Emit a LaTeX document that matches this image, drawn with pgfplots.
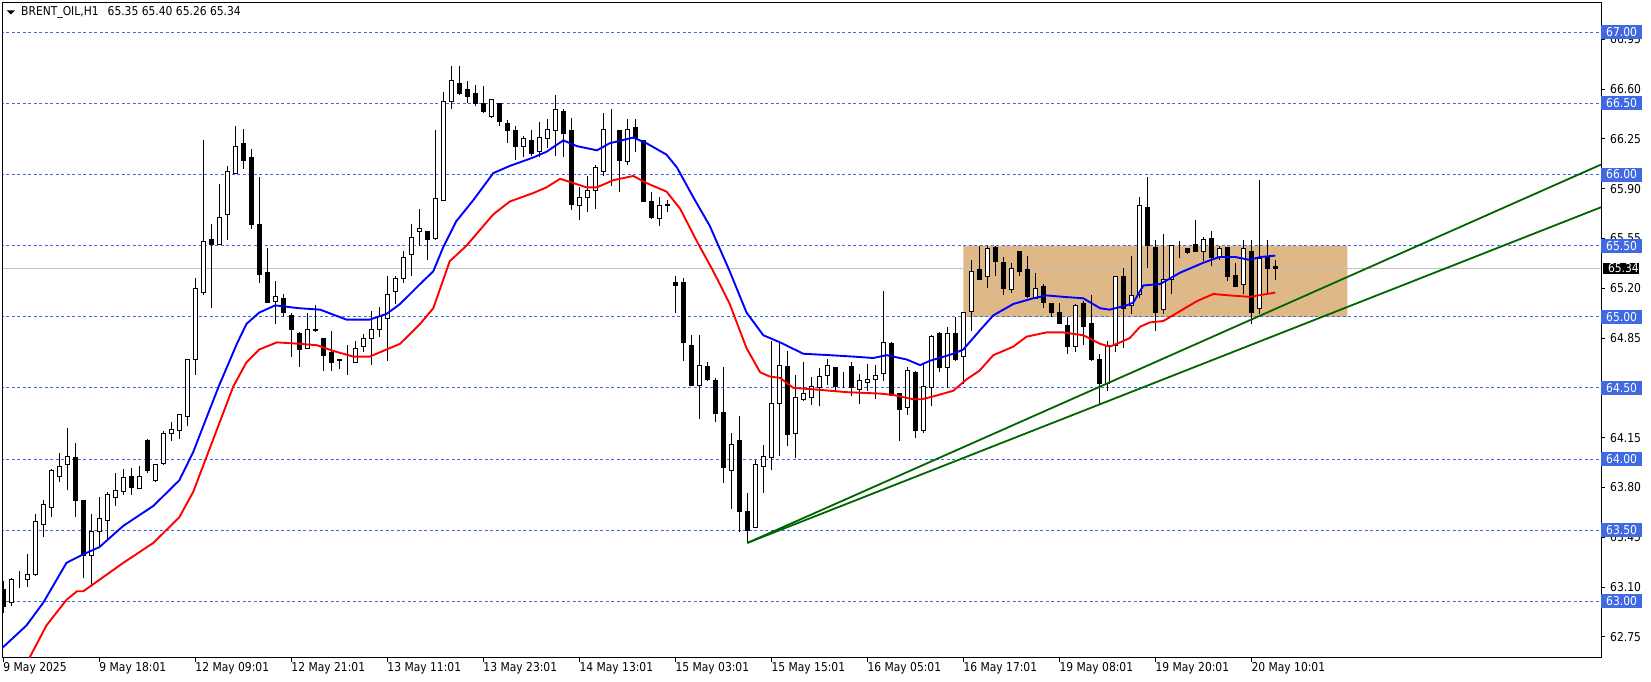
\documentclass[border=0pt]{standalone}
\usepackage{fontspec}
\setmainfont{DejaVu Sans}[FakeStretch=0.88]
\usepackage{pgfplots}
\usepackage{pgfplotstable}
\pgfplotsset{compat=1.18}
\definecolor{mtblue}{RGB}{65,105,225}
\definecolor{boxtan}{RGB}{222,184,135}
\definecolor{trend}{RGB}{0,100,0}
\definecolor{curline}{RGB}{192,192,192}

\pgfplotstableread{
i O H L C
0 63.08 63.14 62.92 62.96
1 62.99 63.16 62.97 63.15
2 63.15 63.21 63.09 63.15
3 63.15 63.33 63.10 63.19
4 63.19 63.61 63.18 63.56
5 63.54 63.71 63.45 63.68
6 63.66 63.93 63.59 63.92
7 63.88 64.04 63.84 63.95
8 63.96 64.22 63.78 64.02
9 64.01 64.11 63.59 63.71
10 63.71 63.71 63.16 63.32
11 63.32 63.61 63.11 63.49
12 63.49 63.73 63.39 63.58
13 63.57 63.77 63.44 63.75
14 63.73 63.90 63.67 63.78
15 63.77 63.93 63.75 63.87
16 63.88 63.94 63.75 63.80
17 63.79 63.95 63.79 63.88
18 64.13 64.14 63.90 63.92
19 63.85 63.96 63.84 63.96
20 63.97 64.20 63.96 64.18
21 64.18 64.26 64.13 64.21
22 64.20 64.31 64.14 64.31
23 64.30 64.70 64.23 64.70
24 64.70 65.27 64.59 65.20
25 65.17 66.24 65.15 65.53
26 65.54 65.65 65.06 65.51
27 65.51 65.93 65.51 65.70
28 65.72 66.06 65.54 66.02
29 66.01 66.34 66.01 66.20
30 66.22 66.32 66.04 66.10
31 66.12 66.18 65.62 65.65
32 65.65 65.98 65.24 65.30
33 65.31 65.48 65.10 65.10
34 65.11 65.25 64.95 65.14
35 65.13 65.16 65.00 65.03
36 65.01 65.03 64.72 64.91
37 64.88 64.89 64.65 64.77
38 64.78 65.03 64.78 64.91
39 64.91 65.08 64.89 64.90
40 64.85 64.85 64.62 64.73
41 64.75 64.90 64.62 64.68
42 64.70 64.70 64.63 64.69
43 64.70 64.80 64.59 64.70
44 64.68 64.83 64.68 64.78
45 64.79 64.88 64.75 64.85
46 64.85 65.04 64.66 64.91
47 64.91 65.07 64.86 65.00
48 64.99 65.29 64.69 65.16
49 65.18 65.29 65.09 65.27
50 65.27 65.46 65.24 65.42
51 65.44 65.65 65.29 65.56
52 65.60 65.76 65.50 65.62
53 65.60 65.60 65.40 65.54
54 65.55 66.31 65.54 65.83
55 65.82 66.58 65.82 66.51
56 66.51 66.76 66.46 66.66
57 66.64 66.76 66.56 66.57
58 66.60 66.66 66.50 66.55
59 66.57 66.63 66.48 66.50
60 66.50 66.62 66.43 66.44
61 66.41 66.53 66.40 66.53
62 66.50 66.50 66.34 66.37
63 66.36 66.38 66.22 66.31
64 66.31 66.34 66.10 66.20
65 66.20 66.27 66.12 66.25
66 66.24 66.31 66.13 66.15
67 66.16 66.37 66.12 66.26
68 66.25 66.39 66.19 66.32
69 66.31 66.56 66.13 66.46
70 66.44 66.46 66.12 66.29
71 66.31 66.40 65.75 65.79
72 65.78 65.91 65.68 65.84
73 65.84 65.99 65.74 65.89
74 65.89 66.07 65.76 66.05
75 66.02 66.43 65.99 66.32
76 66.32 66.46 65.92 66.32
77 66.31 66.31 65.88 66.10
78 66.09 66.39 66.07 66.32
79 66.33 66.39 66.16 66.25
80 66.24 66.24 65.81 65.81
81 65.81 65.88 65.69 65.70
82 65.69 65.84 65.64 65.78
83 65.79 65.82 65.74 65.78
84 65.24 65.29 65.03 65.22
85 65.24 65.27 64.69 64.82
86 64.80 64.87 64.51 64.52
87 64.52 64.87 64.28 64.66
88 64.65 64.68 64.55 64.56
89 64.55 64.57 64.26 64.32
90 64.33 64.65 63.83 63.94
91 63.92 64.18 63.65 64.10
92 64.13 64.30 63.49 63.63
93 63.63 63.76 63.41 63.50
94 63.52 63.99 63.52 63.96
95 63.95 64.10 63.76 64.02
96 64.01 64.83 63.92 64.39
97 64.39 64.83 64.02 64.66
98 64.65 64.76 64.09 64.17
99 64.18 64.59 64.01 64.43
100 64.42 64.68 64.41 64.46
101 64.43 64.58 64.38 64.51
102 64.50 64.64 64.37 64.58
103 64.59 64.70 64.52 64.66
104 64.64 64.65 64.48 64.51
105 64.53 64.61 64.50 64.53
106 64.65 64.68 64.44 64.50
107 64.49 64.60 64.39 64.55
108 64.54 64.67 64.48 64.56
109 64.56 64.66 64.42 64.59
110 64.60 65.18 64.55 64.82
111 64.81 64.82 64.45 64.45
112 64.46 64.46 64.13 64.35
113 64.36 64.65 64.31 64.62
114 64.61 64.62 64.15 64.20
115 64.20 64.67 64.18 64.51
116 64.50 64.87 64.37 64.86
117 64.88 64.89 64.61 64.64
118 64.64 64.93 64.50 64.88
119 64.88 65.00 64.69 64.70
120 64.72 65.03 64.53 65.03
121 65.04 65.40 64.90 65.32
122 65.33 65.50 65.26 65.26
123 65.28 65.50 65.20 65.48
124 65.49 65.50 65.29 65.39
125 65.38 65.42 65.15 65.20
126 65.19 65.38 65.17 65.34
127 65.46 65.46 65.29 65.32
128 65.33 65.43 65.13 65.14
129 65.13 65.31 65.13 65.20
130 65.21 65.23 65.06 65.10
131 65.09 65.10 65.00 65.03
132 65.03 65.10 64.95 64.95
133 64.94 65.00 64.74 64.79
134 64.79 65.09 64.75 65.08
135 65.09 65.11 64.80 64.93
136 64.95 65.15 64.69 64.70
137 64.70 64.74 64.38 64.53
138 64.53 64.83 64.48 64.80
139 64.80 65.29 64.75 65.28
140 65.28 65.34 64.78 65.06
141 65.08 65.43 65.02 65.15
142 65.16 65.84 65.13 65.78
143 65.77 65.98 65.34 65.50
144 65.49 65.54 64.90 65.03
145 65.05 65.58 65.02 65.26
146 65.26 65.50 65.16 65.50
147 65.49 65.53 65.41 65.49
148 65.48 65.48 65.44 65.45
149 65.51 65.68 65.46 65.46
150 65.46 65.56 65.39 65.54
151 65.55 65.60 65.36 65.42
152 65.42 65.50 65.40 65.48
153 65.49 65.49 65.25 65.28
154 65.29 65.38 65.21 65.21
155 65.23 65.54 65.16 65.48
156 65.46 65.54 64.95 65.03
157 65.06 65.96 65.02 65.41
158 65.42 65.54 65.17 65.34
159 65.35 65.40 65.26 65.34
}\candles

\pgfplotstableread{
x y
-0.16 62.67
2.9 62.83
5 62.99
7.9 63.27
10 63.33
12 63.38
15 63.53
18.75 63.67
22 63.85
23.75 64.05
25.4 64.29
27 64.52
29.2 64.81
30.4 64.95
32 65.03
34 65.08
37 65.06
39.6 65.05
42.9 64.98
45.8 64.98
47.9 65.02
49.6 65.09
52.1 65.23
53.75 65.32
55 65.49
56.6 65.67
58.75 65.82
61.25 66.01
63.3 66.06
66.25 66.12
67.9 66.16
70 66.24
71.7 66.20
74.2 66.17
75.8 66.22
78.75 66.26
80.4 66.22
82.9 66.14
84.2 66.05
86.25 65.84
88.3 65.64
90.8 65.32
92.9 65.03
95 64.87
97.1 64.82
100 64.74
103.3 64.73
106.25 64.72
108.75 64.71
110.4 64.73
112.9 64.70
114.6 64.66
115.8 64.69
118.75 64.74
120 64.77
122 64.90
123.75 65.01
126.25 65.09
128.75 65.13
130.4 65.15
132.5 65.14
135 65.13
137.1 65.06
138.3 65.05
140.4 65.08
141.25 65.10
142.5 65.22
144.6 65.23
147.1 65.31
150 65.38
152 65.42
154 65.42
155.8 65.40
157.1 65.42
159 65.43
}\mablue

\pgfplotstableread{
x y
3.25 62.60
5.4 62.83
7.9 63.01
9.2 63.07
10 63.07
11.25 63.12
15 63.27
18.75 63.41
22 63.59
23.75 63.77
26.25 64.14
28.75 64.51
30.4 64.68
32 64.77
34.2 64.82
37 64.81
39.2 64.80
41.25 64.76
43.75 64.72
45.8 64.72
48.75 64.79
49.6 64.81
52.1 64.95
53.75 65.06
55.8 65.39
57.9 65.50
61.25 65.72
63.3 65.81
66.25 65.87
67.9 65.91
69.6 65.97
71.25 65.94
72.9 65.91
74.2 65.91
76.25 65.96
78.75 65.99
80.4 65.94
82.9 65.88
84.6 65.76
86.7 65.53
88.75 65.32
90.8 65.09
92.9 64.78
94.6 64.61
95.8 64.58
97.1 64.57
98.75 64.50
101.25 64.49
105.4 64.47
109.6 64.46
111.25 64.45
113.75 64.42
114.8 64.42
116.25 64.44
118.75 64.48
120.4 64.56
122 64.62
123.75 64.73
126.25 64.79
127.9 64.86
130.4 64.89
132.5 64.89
135 64.87
137.1 64.81
138.3 64.79
139.6 64.82
140.8 64.85
142.1 64.93
143.3 64.96
145 64.97
147.1 65.04
149.2 65.11
151.25 65.16
153.3 65.15
155.8 65.14
159 65.17
}\mared

\begin{document}
\begin{tikzpicture}[x=1bp,y=1bp]
\fill[white] (0,0) rectangle (1651,682);
\useasboundingbox (0,0) rectangle (1651,682);
\pgfplotsset{mt/.style={scale only axis, width=1599bp, height=655.7bp,
  at={(2bp,24bp)}, anchor=south west,
  xmin=-0.16, xmax=199.71, ymin=62.601, ymax=67.211,
  font=\fontsize{12.2bp}{14bp}\selectfont}}
% background layer: zone, levels, current price line, wicks
\begin{axis}[mt, hide axis]
\addplot[fill=boxtan, draw=none] coordinates {(120,65) (168,65) (168,65.5) (120,65.5) (120,65)};
\pgfplotsinvokeforeach{63,63.5,64,64.5,65,65.5,66,66.5,67}{
  \addplot[mtblue, line width=0.9bp, dash pattern=on 3bp off 2.5bp] coordinates {(-1,#1) (201,#1)};
}
\addplot[curline, line width=0.9bp] coordinates {(-1,65.34) (201,65.34)};
\addplot[black, mark=none, draw=none,
  error bars/.cd, y dir=plus, y explicit, error mark=none,
  error bar style={line width=1bp, black}]
  table[x=i, y=L, y error expr=\thisrow{H}-\thisrow{L}] {\candles};
\end{axis}
% candle bodies
\begin{axis}[mt, hide axis, ybar stacked, bar width=4bp]
\addplot[draw=none, fill=none] table[x=i, y expr={min(\thisrow{O},\thisrow{C})}] {\candles};
\addplot[draw=black, fill=white, line width=1bp] table[x=i, y expr={max(\thisrow{C}-\thisrow{O},0)}] {\candles};
\addplot[draw=black, fill=black, line width=1bp] table[x=i, y expr={max(\thisrow{O}-\thisrow{C},0)}] {\candles};
\end{axis}
% indicators, trend lines, frame, ticks
\begin{axis}[mt,
  axis line style={line width=1bp, black},
  xtick={0,12,...,156},
  xticklabels={9 May 2025, 9 May 18:01, 12 May 09:01, 12 May 21:01, 13 May 11:01, 13 May 23:01, 14 May 13:01, 15 May 03:01, 15 May 15:01, 16 May 05:01, 16 May 17:01, 19 May 08:01, 19 May 20:01, 20 May 10:01},
  xtick pos=bottom, ytick pos=right, yticklabel pos=right,
  tick align=outside, major tick length=4bp,
  tick style={black, line width=1bp},
  xticklabel style={anchor=north west, inner xsep=0pt, inner ysep=0pt, text height=8.9bp, text depth=0bp},
  ytick={62.75,63.10,63.45,63.80,64.15,64.85,65.20,65.55,65.90,66.25,66.60,66.95},
  /pgf/number format/assume math mode=true,
  yticklabel style={anchor=west, inner xsep=5bp, inner ysep=2.55bp, text height=8.9bp, text depth=0bp,
     /pgf/number format/fixed, /pgf/number format/fixed zerofill, /pgf/number format/precision=2},
  extra y ticks={63,63.5,64,64.5,65,65.5,66,66.5,67},
  extra y tick style={major tick length=0bp, yticklabel style={fill=mtblue, text=white}},
]
\addplot[blue, line width=1.9bp, mark=none] table[x=x, y=y] {\mablue};
\addplot[red, line width=1.9bp, mark=none] table[x=x, y=y] {\mared};
\addplot[trend, line width=1.8bp, mark=none] coordinates {(93,63.41) (199.71,66.07)};
\addplot[trend, line width=1.8bp, mark=none] coordinates {(93,63.41) (199.71,65.77)};
\coordinate (cp) at (axis cs:199.71,65.34);
\end{axis}
\node[fill=black, text=white, anchor=west, inner xsep=0pt, inner ysep=1.4bp, text height=8.9bp, text depth=0bp,
  font=\fontsize{12.2bp}{14bp}\selectfont, xshift=1.5bp] at (cp) {\hspace{5.3bp}65.34\hspace{1bp}};
\fill[black] (6.7,671.7) -- (15,671.7) -- (10.85,667.6) -- cycle;
\node[anchor=base west, inner sep=0pt, font=\fontsize{12.2bp}{14bp}\selectfont] at (21,666)
  {BRENT\_OIL,H1\hspace{9bp}65.35 65.40 65.26 65.34};
\end{tikzpicture}
\end{document}
